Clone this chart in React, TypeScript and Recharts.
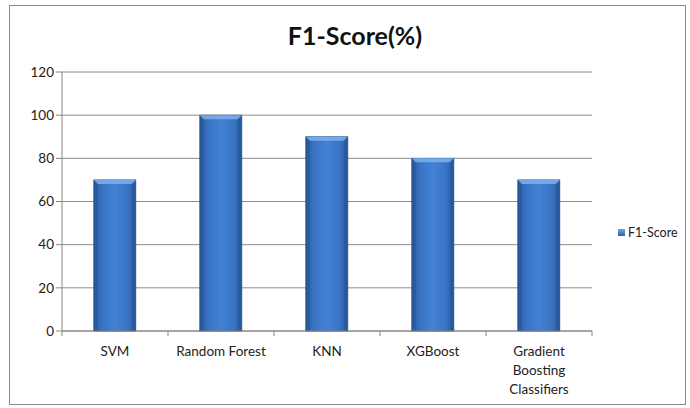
import React from 'react';
import { BarChart, Bar, XAxis, YAxis, CartesianGrid } from 'recharts';

// values
const models = ['SVM', 'Random Forest', 'KNN', 'XGBoost', 'Gradient Boosting Classifiers'];
const f1Scores = [70, 100, 90, 80, 70];
const yTicks = [0, 20, 40, 60, 80, 100, 120];

const data = models.map((name, i) => ({ name, f1: f1Scores[i] }));

const W = 690;
const H = 408;
const margin = { top: 72, right: 98, left: 22, bottom: 17 };
const band = (W - margin.left - 40 - margin.right) / models.length;
const font = 'Lato, "Open Sans", sans-serif';

function CategoryTick(props: any) {
  const { x, y, payload, index } = props;
  const words = String(payload.value).split(' ');
  const lines = words.length > 2 ? words : [payload.value];
  const last = index === models.length - 1;
  return (
    <g>
      <line x1={x - band / 2} y1={y - 8} x2={x - band / 2} y2={y - 3} stroke="#868686" />
      {last && <line x1={x + band / 2} y1={y - 8} x2={x + band / 2} y2={y - 3} stroke="#868686" />}
      {lines.map((l: string, i: number) => (
        <text key={i} x={x} y={y + 17 + i * 19} textAnchor="middle" fontSize={13.5} fill="#222" fontFamily={font}>
          {l}
        </text>
      ))}
    </g>
  );
}

function CylinderBar(props: any) {
  const { x, y, width, height } = props;
  if (!height) return null;
  const b = 4;
  return (
    <g>
      <rect x={x} y={y} width={width} height={height} fill="url(#barGrad)" stroke="#2c5a96" strokeWidth={0.8} />
      <polygon
        points={`${x},${y} ${x + width},${y} ${x + width - b},${y + b} ${x + b},${y + b}`}
        fill="#7fb0ee"
        opacity={0.85}
      />
      <polygon points={`${x},${y} ${x + b},${y + b} ${x + b},${y + height} ${x},${y + height}`} fill="#1f4c88" opacity={0.35} />
      <polygon
        points={`${x + width},${y} ${x + width - b},${y + b} ${x + width - b},${y + height} ${x + width},${y + height}`}
        fill="#1f4c88"
        opacity={0.35}
      />
    </g>
  );
}

export default function App() {
  return (
    <div style={{ position: 'absolute', left: 0, top: 0, width: W, height: H, background: '#fff' }}>
      <div
        style={{
          position: 'absolute',
          left: 9,
          top: 5,
          width: 677,
          height: 400,
          border: '1px solid #8a8a8a',
          boxSizing: 'border-box',
        }}
      />
      <div
        style={{
          position: 'absolute',
          left: 0,
          top: 20,
          width: 710,
          textAlign: 'center',
          fontFamily: font,
          fontWeight: 700,
          fontSize: 25,
          color: '#111',
        }}
      >
        F1-Score(%)
      </div>
      <div style={{ position: 'absolute', left: 0, top: 0 }}>
        <BarChart width={W} height={H} data={data} margin={margin} barCategoryGap="30%">
          <defs>
            <linearGradient id="barGrad" x1="0" y1="0" x2="1" y2="0">
              <stop offset="0%" stopColor="#2a5b9e" />
              <stop offset="20%" stopColor="#3a74c4" />
              <stop offset="50%" stopColor="#4282d4" />
              <stop offset="80%" stopColor="#3a74c4" />
              <stop offset="100%" stopColor="#2a5b9e" />
            </linearGradient>
          </defs>
          <CartesianGrid vertical={false} stroke="#8c8c8c" />
          <XAxis
            dataKey="name"
            interval={0}
            height={60}
            axisLine={{ stroke: '#868686' }}
            tickLine={false}
            tick={<CategoryTick />}
          />
          <YAxis
            width={40}
            domain={[0, 120]}
            ticks={yTicks}
            axisLine={{ stroke: '#868686' }}
            tickLine={{ stroke: '#868686' }}
            tickSize={6}
            tick={{ fontSize: 13.5, fill: '#222', fontFamily: font }}
          />
          <Bar dataKey="f1" name="F1-Score" shape={<CylinderBar />} isAnimationActive={false} />
        </BarChart>
      </div>
      <div
        style={{
          position: 'absolute',
          left: 618,
          top: 225,
          display: 'flex',
          alignItems: 'center',
          fontFamily: font,
          fontSize: 12.5,
          color: '#222',
        }}
      >
        <span
          style={{
            display: 'inline-block',
            width: 7,
            height: 7,
            marginRight: 3,
            background: 'linear-gradient(to bottom, #6fa2e6, #2b62ad)',
          }}
        />
        F1-Score
      </div>
    </div>
  );
}
